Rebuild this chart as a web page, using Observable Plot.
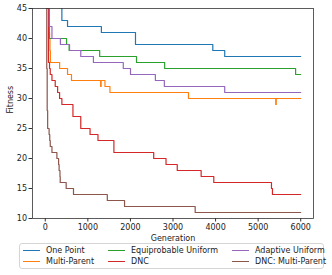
<!DOCTYPE html>
<html>
<head>
<meta charset="utf-8">
<script src="https://cdn.jsdelivr.net/npm/d3@7"></script>
<script src="https://cdn.jsdelivr.net/npm/@observablehq/plot@0.6"></script>
<style>
  html, body { margin: 0; padding: 0; background: #fff; }
  body { width: 332px; height: 275px; overflow: hidden; font-family: "DejaVu Sans", sans-serif; }
  #legend {
    position: absolute; left: 19px; top: 243px; width: 305px; height: 26px;
    border: 1px solid #d5d5d5; border-radius: 3px; box-sizing: border-box;
    font-size: 8px; color: #222;
  }
  .item { position: absolute; display: flex; align-items: center; white-space: nowrap; }
  .sw { width: 17px; height: 0; border-top: 1.3px solid; margin-right: 6px; }
</style>
</head>
<body>
<div id="chart"></div>
<div id="legend"></div>
<script>
// Series names and colors
const seriesNames = ["One Point", "Multi-Parent", "Equiprobable Uniform", "DNC", "Adaptive Uniform", "DNC: Multi-Parent"];
const seriesColors = ["#1f77b4", "#ff7f0e", "#2ca02c", "#d62728", "#9467bd", "#8c564b"];

// One Point
const onePointGen = [0, 390, 523, 1318, 2119, 3935, 4215, 6000];
const onePointFit = [60, 43, 42, 41, 39, 38, 37, 37];

// Multi-Parent
const multiParentGen = [0, 70, 85, 100, 110, 120, 337, 523, 616, 1300, 1312, 1402, 1519, 3364, 5413, 5425, 6000];
const multiParentFit = [65, 45, 41, 40, 38, 36, 35, 34, 33, 32, 33, 32, 31, 30, 29, 30, 30];

// Equiprobable Uniform
const equiGen = [0, 70, 94, 500, 561, 1278, 2143, 2804, 5880, 6000];
const equiFit = [60, 50, 40, 39, 38, 37, 36, 35, 34, 34];

// DNC
const dncGen = [0, 50, 75, 100, 117, 157, 234, 290, 336, 390, 650, 834, 1052, 1238, 1612, 2547, 2836, 3100, 3661, 3958, 5313, 5336, 6000];
const dncFit = [65, 45, 36, 35, 34, 33, 32, 31, 30, 29, 27, 25, 24, 23, 21, 20, 19, 18, 17, 16, 15, 14, 14];

// Adaptive Uniform
const adaptiveGen = [0, 70, 95, 157, 355, 570, 834, 1131, 1832, 2002, 2586, 2797, 4215, 6000];
const adaptiveFit = [60, 50, 42, 40, 39, 38, 37, 36, 35, 34, 33, 32, 31, 31];

// DNC: Multi-Parent
const dncMpGen = [0, 25, 35, 45, 56, 90, 105, 117, 157, 273, 313, 325, 345, 351, 491, 663, 1457, 1862, 3521, 6000];
const dncMpFit = [65, 45, 35, 28, 25, 24, 23, 22, 21, 20, 19, 18, 17, 16, 15, 14, 13, 12, 11, 11];

// Axis ticks
const xTicks = [0, 1000, 2000, 3000, 4000, 5000, 6000];
const yTicks = [10, 15, 20, 25, 30, 35, 40, 45];

const seriesGens = [onePointGen, multiParentGen, equiGen, dncGen, adaptiveGen, dncMpGen];
const seriesFits = [onePointFit, multiParentFit, equiFit, dncFit, adaptiveFit, dncMpFit];

const data = [];
seriesNames.forEach((name, i) => {
  seriesGens[i].forEach((g, j) => data.push({series: name, gen: g, fit: seriesFits[i][j]}));
});

const chart = Plot.plot({
  width: 332,
  height: 243,
  marginLeft: 32,
  marginRight: 19,
  marginTop: 8,
  marginBottom: 25,
  style: {fontFamily: "DejaVu Sans, sans-serif", fontSize: "8px", color: "#222", background: "#fff"},
  x: {domain: [-300, 6300]},
  y: {domain: [10, 45]},
  color: {domain: seriesNames, range: seriesColors},
  marks: [
    Plot.line(data, {x: "gen", y: "fit", z: "series", stroke: "series", curve: "step-after", strokeWidth: 1.2, clip: true}),
    Plot.frame({stroke: "#333", strokeWidth: 0.8}),
    Plot.axisX({ticks: xTicks, tickFormat: d => String(d), tickSize: 3.5, tickPadding: 2.5, label: null, stroke: "#333"}),
    Plot.axisY({ticks: yTicks, tickSize: 3.5, tickPadding: 2, label: null, stroke: "#333"}),
    Plot.text(["Generation"], {frameAnchor: "bottom", dy: 22, fontSize: 8, fill: "#222"}),
    Plot.text(["Fitness"], {frameAnchor: "left", dx: -22, rotate: -90, fontSize: 8, fill: "#222"})
  ]
});
document.getElementById("chart").appendChild(chart);

// Legend (column-major order, 3 columns x 2 rows)
const legend = document.getElementById("legend");
const colX = [3, 88, 212];
const rowY = [2, 13];
seriesNames.forEach((name, i) => {
  const col = Math.floor(i / 2), row = i % 2;
  const el = document.createElement("div");
  el.className = "item";
  el.style.left = colX[col] + "px";
  el.style.top = rowY[row] + "px";
  el.innerHTML = `<span class="sw" style="border-color:${seriesColors[i]}"></span><span>${name}</span>`;
  legend.appendChild(el);
});
</script>
</body>
</html>
